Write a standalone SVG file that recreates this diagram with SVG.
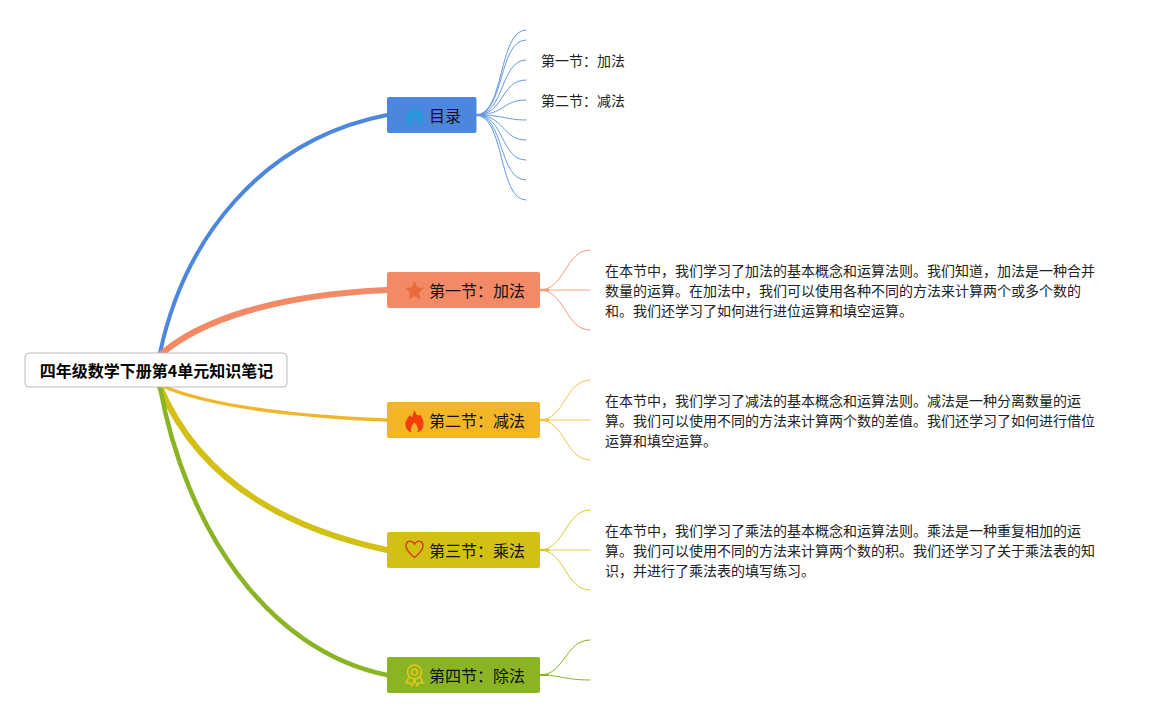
<svg xmlns="http://www.w3.org/2000/svg" width="1165" height="718" viewBox="0 0 1165 718">
<style>
.t{font-family:"Noto Sans CJK SC","Noto Sans",sans-serif;font-size:16px;fill:#111}
.d{font-family:"Noto Sans CJK SC","Noto Sans",sans-serif;font-size:14px;fill:#222}
.r{font-family:"Noto Sans CJK SC","Noto Sans",sans-serif;font-size:16px;font-weight:700;fill:#000}
path{fill:none}
#flame{fill:inherit}
.thin{stroke-width:1}
.mid{stroke-width:1.500;opacity:.6}
.blue{stroke:#4c87dd}.coral{stroke:#f38a65}.amber{stroke:#efb72c}.yel{stroke:#d3c015}.grn{stroke:#8ab423}
</style>
<defs><path id="flame" d="M414.500 105C415.500 110 419 112 420 109.500C423 113 424 117 423.500 120C423 124.500 420 127 417.500 127C419 124 417 120 414.500 117.500C412 120 410 124 411.500 127C409 127 406 124.500 405.500 120C405 115 409 112 410 110C411 111 411.500 112 412 112.500C413 110 413.500 107 414.500 105Z"/></defs>
<rect width="1165" height="718" fill="#fff"/>
<g id="connectors" stroke-linecap="round">
<path class="blue" stroke-width="4" d="M160 353C184 240 260 140 387 115"/>
<path class="coral" stroke-width="6" d="M160 355C200 320 275 295 387 290"/>
<path class="amber" stroke-width="3.500" d="M160 385C205 405 290 416 387 420"/>
<path class="yel" stroke-width="6" d="M160 387C195 470 270 525 387 550"/>
<path class="grn" stroke-width="4.500" d="M160 387C185 525 265 650 387 675"/>
<g class="blue thin" opacity=".85">
<path d="M476 115C505 115 498 30 526 30"/><path d="M476 115C505 115 498 40 526 40"/><path d="M476 115C505 115 500 60 526 60"/><path d="M476 115C505 115 500 80 526 80"/><path d="M476 115C505 115 502 100 526 100"/>
<path d="M476 115C505 115 505 120 526 120"/><path d="M476 115C505 115 502 140 526 140"/><path d="M476 115C505 115 500 160 526 160"/><path d="M476 115C505 115 498 180 526 180"/><path d="M476 115C505 115 498 200 526 200"/>
<path d="M476 115H484" stroke-width="2.500"/>
</g>
<g class="coral thin" opacity=".85"><path d="M540 290C565 290 565 250 590 250"/><path class="mid" d="M540 290H590"/><path d="M540 290C565 290 565 330 590 330"/><path d="M540 290H548" stroke-width="2.500"/></g>
<g class="amber thin" opacity=".85"><path d="M540 420C565 420 565 380 590 380"/><path class="mid" d="M540 420H590"/><path d="M540 420C565 420 565 460 590 460"/><path d="M540 420H548" stroke-width="2.500"/></g>
<g class="yel thin" opacity=".85"><path d="M540 550C565 550 565 510 590 510"/><path class="mid" d="M540 550H590"/><path d="M540 550C565 550 565 590 590 590"/><path d="M540 550H548" stroke-width="2.500"/></g>
<g class="grn thin"><path d="M540 675C565 675 565 640 590 640"/><path d="M540 675C560 675 565 680 590 680"/><path d="M540 675H548" stroke-width="2"/></g>
</g>
<g id="root"><rect x="25" y="353" width="262" height="34" rx="4" fill="#fff" stroke="#bbb"/><text class="r" x="156.500" y="376.500" text-anchor="middle">四年级数学下册第4单元知识笔记</text></g>
<g id="n0"><rect x="387" y="97" width="89.500" height="36" rx="2" fill="#4c87dd"/><use href="#flame" fill="#2a97dc"/><text class="t" x="429" y="122">目录</text></g>
<g id="n1"><rect x="387" y="272" width="153" height="36" rx="2" fill="#f38a65"/><path d="M414.500 281L417.300 287.300L424 288L419 292.600L420.400 299.500L414.500 296L408.600 299.500L410 292.600L405 288L411.700 287.300Z" style="fill:#e96c3e"/><text class="t" x="429" y="297">第一节：加法</text></g>
<g id="n2"><rect x="387" y="402" width="153" height="36" rx="2" fill="#f2b526"/><use href="#flame" y="305" fill="#f23d0c"/><text class="t" x="429" y="427">第二节：减法</text></g>
<g id="n3"><rect x="387" y="532" width="153" height="36" rx="2" fill="#d3c015"/><path d="M414.500 557.500C409 553 406 550 406 546C406 540 412 540 414.500 544C417 540 423 540 423 546C423 550 420 553 414.500 557.500Z" style="stroke:#d4470e;stroke-width:1.600"/><text class="t" x="429" y="557">第三节：乘法</text></g>
<g id="n4"><rect x="387" y="657" width="153" height="36" rx="2" fill="#8ab423"/><g style="stroke:#e6c71a;stroke-width:1.600"><circle cx="414.500" cy="672" r="7" fill="none"/><circle cx="414.500" cy="672" r="3" fill="none"/><path d="M409 677L406 683L410 683L412 685.500L414.500 680L417 685.500L419 683L423 683L420 677"/></g><text class="t" x="429" y="682">第四节：除法</text></g>
<g id="toc1"><text class="d" x="541" y="66">第一节：加法</text></g>
<g id="toc2"><text class="d" x="541" y="106">第二节：减法</text></g>
<g id="d1"><text class="d" x="605" y="276">在本节中，我们学习了加法的基本概念和运算法则。我们知道，加法是一种合并</text><text class="d" x="605" y="296">数量的运算。在加法中，我们可以使用各种不同的方法来计算两个或多个数的</text><text class="d" x="605" y="316">和。我们还学习了如何进行进位运算和填空运算。</text></g>
<g id="d2"><text class="d" x="605" y="406">在本节中，我们学习了减法的基本概念和运算法则。减法是一种分离数量的运</text><text class="d" x="605" y="426">算。我们可以使用不同的方法来计算两个数的差值。我们还学习了如何进行借位</text><text class="d" x="605" y="446">运算和填空运算。</text></g>
<g id="d3"><text class="d" x="605" y="536">在本节中，我们学习了乘法的基本概念和运算法则。乘法是一种重复相加的运</text><text class="d" x="605" y="556">算。我们可以使用不同的方法来计算两个数的积。我们还学习了关于乘法表的知</text><text class="d" x="605" y="576">识，并进行了乘法表的填写练习。</text></g>
</svg>
